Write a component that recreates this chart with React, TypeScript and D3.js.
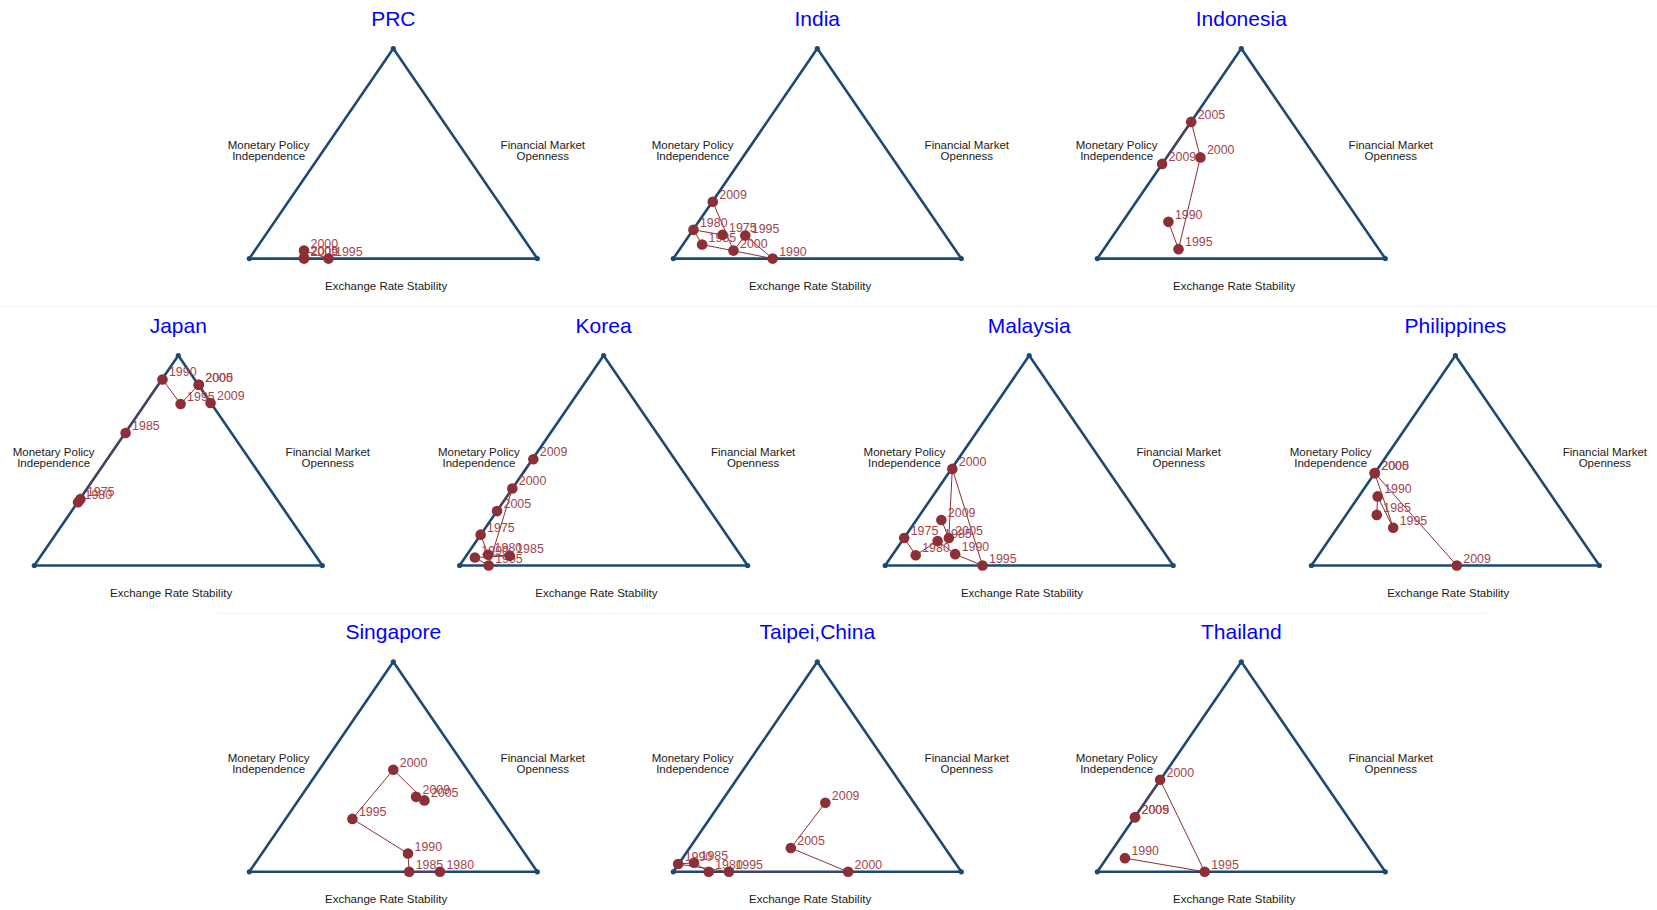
import React from "react";
import * as d3 from "d3";

// Each entry: [year, position along base (0..1), height within triangle (0..1)]
const PRC: [number, number, number][] = [
  [1995, 0.275, 0.0], [2000, 0.19, 0.038], [2005, 0.19, 0.004], [2009, 0.19, 0.0],
];
const India: [number, number, number][] = [
  [1975, 0.171, 0.113], [1980, 0.07, 0.137], [1985, 0.1, 0.067], [1990, 0.345, 0.0],
  [1995, 0.25, 0.11], [2000, 0.209, 0.038], [2009, 0.137, 0.271],
];
const Indonesia: [number, number, number][] = [
  [1990, 0.247, 0.175], [1995, 0.282, 0.045], [2000, 0.358, 0.482], [2005, 0.326, 0.651],
  [2009, 0.225, 0.451],
];
const Japan: [number, number, number][] = [
  [1975, 0.16, 0.316], [1980, 0.152, 0.301], [1985, 0.317, 0.631], [1990, 0.445, 0.886],
  [1995, 0.508, 0.769], [2000, 0.571, 0.861], [2005, 0.571, 0.861], [2009, 0.612, 0.774],
];
const Korea: [number, number, number][] = [
  [1975, 0.073, 0.147], [1980, 0.099, 0.051], [1985, 0.174, 0.046], [1990, 0.053, 0.038],
  [1995, 0.101, 0.0], [2000, 0.183, 0.367], [2005, 0.13, 0.259], [2009, 0.256, 0.506],
];
const Malaysia: [number, number, number][] = [
  [1975, 0.066, 0.131], [1980, 0.106, 0.049], [1985, 0.182, 0.117], [1990, 0.243, 0.054],
  [1995, 0.338, 0.0], [2000, 0.233, 0.46], [2005, 0.221, 0.131], [2009, 0.195, 0.217],
];
const Philippines: [number, number, number][] = [
  [1985, 0.227, 0.241], [1990, 0.23, 0.329], [1995, 0.284, 0.18], [2000, 0.22, 0.44],
  [2005, 0.22, 0.44], [2009, 0.505, 0.0],
];
const Singapore: [number, number, number][] = [
  [1980, 0.662, 0.0], [1985, 0.555, 0.0], [1990, 0.551, 0.087], [1995, 0.358, 0.252],
  [2000, 0.5, 0.486], [2005, 0.608, 0.34], [2009, 0.579, 0.357],
];
const Taipei: [number, number, number][] = [
  [1980, 0.123, 0.0], [1985, 0.072, 0.043], [1990, 0.017, 0.037], [1995, 0.193, 0.0],
  [2000, 0.607, 0.0], [2005, 0.408, 0.113], [2009, 0.528, 0.329],
];
const Thailand: [number, number, number][] = [
  [1990, 0.096, 0.065], [1995, 0.373, 0.0], [2000, 0.218, 0.438], [2005, 0.131, 0.26],
  [2009, 0.131, 0.26],
];

const titles = [
  "PRC", "India", "Indonesia", "Japan", "Korea", "Malaysia", "Philippines",
  "Singapore", "Taipei,China", "Thailand",
];
const series = [PRC, India, Indonesia, Japan, Korea, Malaysia, Philippines, Singapore, Taipei, Thailand];
const axisLeft = ["Monetary Policy", "Independence"];
const axisRight = ["Financial Market", "Openness"];
const axisBottom = "Exchange Rate Stability";

// layout (styling only)
const W = 1657;
const H = 910;
const TRI_W = 288;
const TRI_H = 210;
const rowBottoms = [258.6, 565.5, 871.8];
const rowLefts = [
  [249.3, 673.3, 1097.3],
  [34.3, 459.6, 885.2, 1311.4],
  [249.3, 673.3, 1097.3],
];

const FONT = "'Liberation Sans', Arial, Helvetica, sans-serif";
const TRI_COLOR = "#1c4a73";
const PT_COLOR = "#8c2f36";
const LBL_COLOR = "#a2434a";

function Panel({ title, data, left, bottom }: { title: string; data: [number, number, number][]; left: number; bottom: number }) {
  const x = d3.scaleLinear().domain([0, 1]).range([left, left + TRI_W]);
  const y = d3.scaleLinear().domain([0, 1]).range([bottom, bottom - TRI_H]);
  const verts: [number, number][] = [[0, 0], [1, 0], [0.5, 1]];
  const triPath = d3.line<[number, number]>().x((d) => x(d[0])).y((d) => y(d[1]))([...verts, verts[0]]) as string;
  const line = d3
    .line<[number, number, number]>()
    .x((d) => x(d[1]))
    .y((d) => y(d[2]));
  const apexX = x(0.5);
  const topY = y(1);
  return (
    <g>
      <text x={apexX} y={topY - 22.5} textAnchor="middle" fontSize={21} fill="#0000ff" fontFamily={FONT}>
        {title}
      </text>
      <path d={triPath} fill="none" stroke={TRI_COLOR} strokeWidth={2.6} strokeLinejoin="round" />
      {verts.map((v, i) => (
        <circle key={i} cx={x(v[0])} cy={y(v[1])} r={2.6} fill={TRI_COLOR} />
      ))}
      <text x={x(0) + 19.3} y={topY + 100.6} textAnchor="middle" fontSize={11.5} fill="#1a1a1a" fontFamily={FONT}>
        <tspan x={x(0) + 19.3}>{axisLeft[0]}</tspan>
        <tspan x={x(0) + 19.3} dy={11}>{axisLeft[1]}</tspan>
      </text>
      <text x={x(1) + 5.5} y={topY + 100.6} textAnchor="middle" fontSize={11.5} fill="#1a1a1a" fontFamily={FONT}>
        <tspan x={x(1) + 5.5}>{axisRight[0]}</tspan>
        <tspan x={x(1) + 5.5} dy={11}>{axisRight[1]}</tspan>
      </text>
      <text x={apexX - 7.2} y={bottom + 31.5} textAnchor="middle" fontSize={11.5} fill="#1a1a1a" fontFamily={FONT}>
        {axisBottom}
      </text>
      <path d={line(data) as string} fill="none" stroke={PT_COLOR} strokeWidth={1} />
      {data.map((d) => (
        <text key={"t" + d[0]} x={x(d[1]) + 6.5} y={y(d[2]) - 3} fontSize={12.4} fill={LBL_COLOR} fontFamily={FONT}>
          {d[0]}
        </text>
      ))}
      {data.map((d) => (
        <circle key={"c" + d[0]} cx={x(d[1])} cy={y(d[2])} r={5.3} fill={PT_COLOR} />
      ))}
    </g>
  );
}

export default function App() {
  const panels: { title: string; data: [number, number, number][]; left: number; bottom: number }[] = [];
  let k = 0;
  rowLefts.forEach((lefts, r) => {
    lefts.forEach((l) => {
      panels.push({ title: titles[k], data: series[k], left: l, bottom: rowBottoms[r] });
      k++;
    });
  });
  return (
    <div style={{ position: "absolute", left: 0, top: 0, width: W, height: H, background: "#fff" }}>
      <svg width={W} height={H} viewBox={`0 0 ${W} ${H}`} style={{ display: "block" }}>
        <rect width={W} height={H} fill="#ffffff" />
        <line x1={0} x2={W} y1={306.7} y2={306.7} stroke="#efefef" strokeWidth={1} />
        <line x1={217} x2={1487} y1={613.3} y2={613.3} stroke="#efefef" strokeWidth={1} />
        {panels.map((p) => (
          <Panel key={p.title} {...p} />
        ))}
      </svg>
    </div>
  );
}
